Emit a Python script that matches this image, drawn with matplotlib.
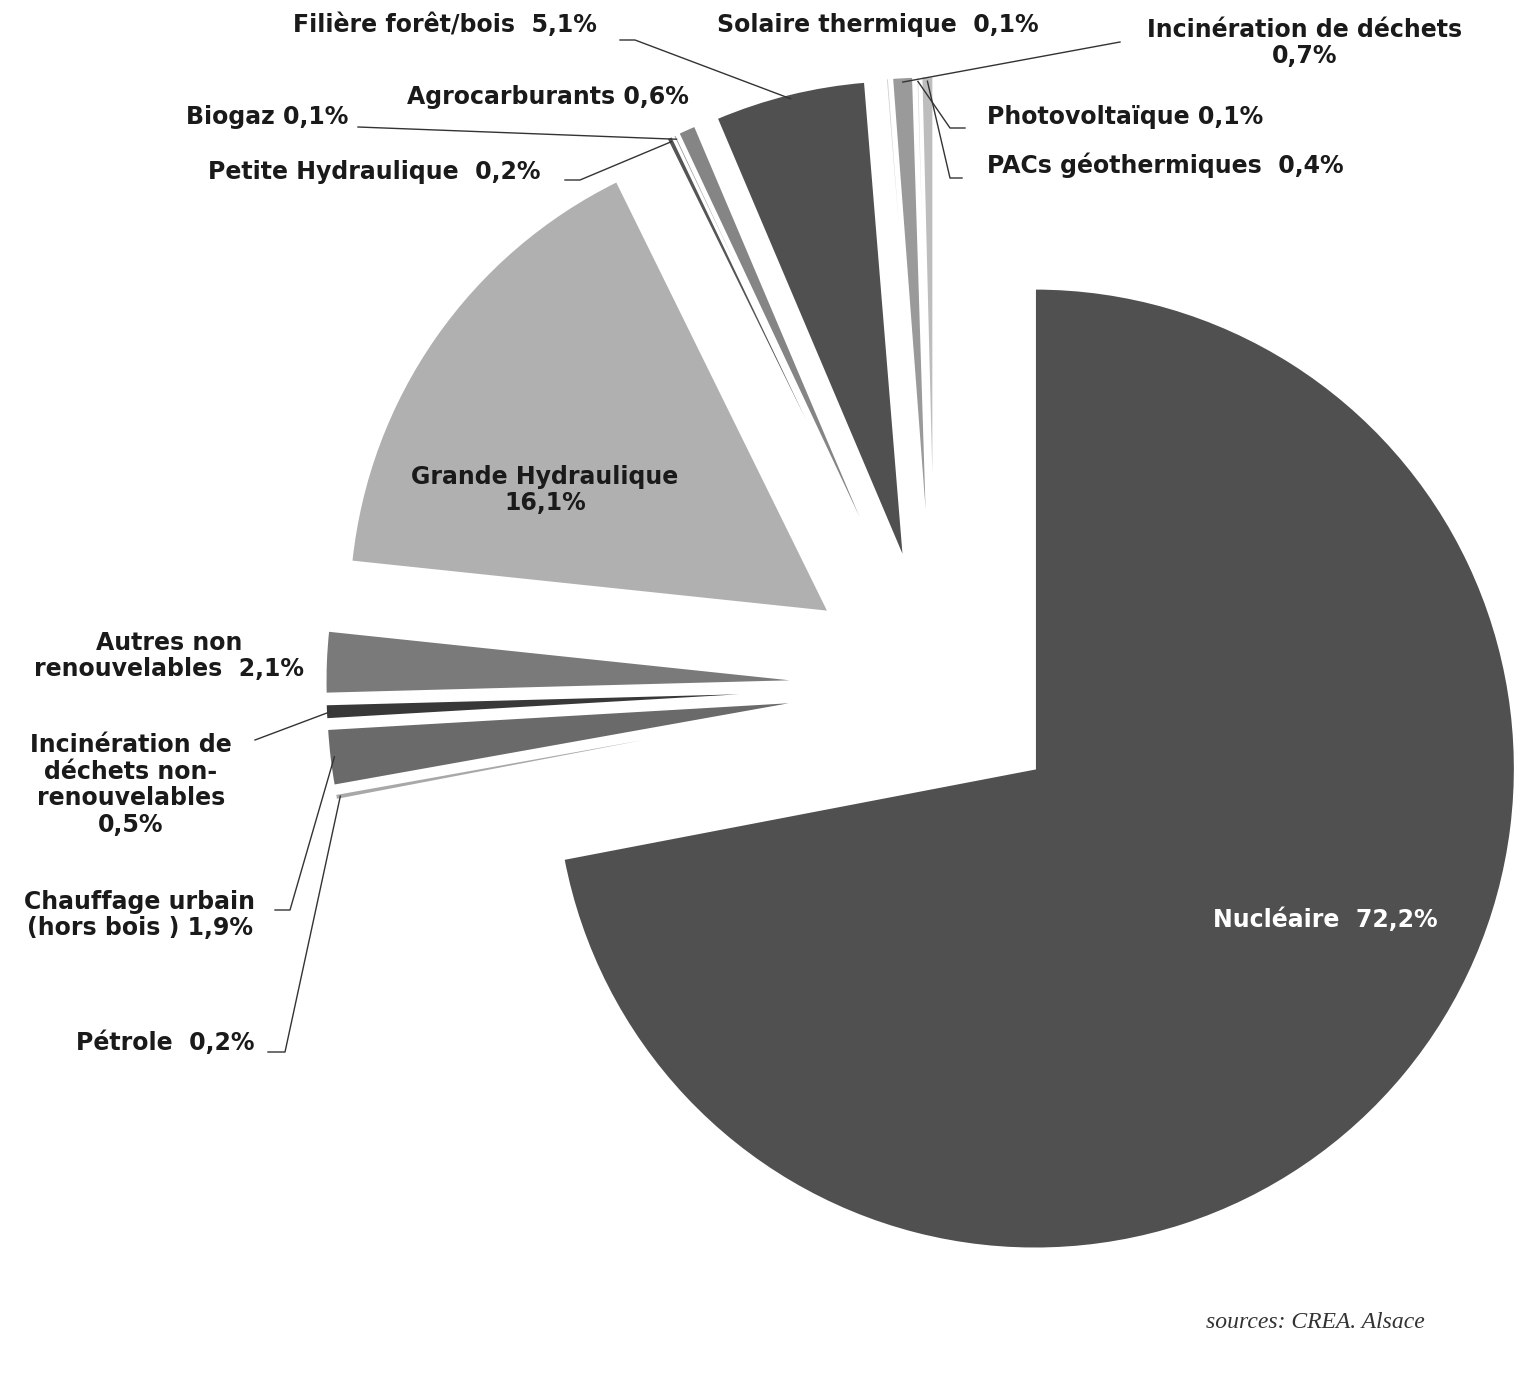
import numpy as np
import matplotlib
matplotlib.use("Agg")
import matplotlib.pyplot as plt

categories = ["Nucléaire", "Pétrole", "Chauffage urbain (hors bois )", "Incinération de déchets non-renouvelables",
              "Autres non renouvelables", "Grande Hydraulique", "Petite Hydraulique", "Biogaz",
              "Agrocarburants", "Filière forêt/bois", "Solaire thermique", "Incinération de déchets",
              "Photovoltaïque", "PACs géothermiques"]
values = [72.2, 0.2, 1.9, 0.5, 2.1, 16.1, 0.2, 0.1, 0.6, 5.1, 0.1, 0.7, 0.1, 0.4]
labels_txt = ["Nucléaire  72,2%", "Pétrole  0,2%", "Chauffage urbain\n(hors bois ) 1,9%",
              "Incinération de\ndéchets non-\nrenouvelables\n0,5%", "Autres non\nrenouvelables  2,1%",
              "Grande Hydraulique\n16,1%", "Petite Hydraulique  0,2%", "Biogaz 0,1%",
              "Agrocarburants 0,6%", "Filière forêt/bois  5,1%", "Solaire thermique  0,1%",
              "Incinération de déchets\n0,7%", "Photovoltaïque 0,1%", "PACs géothermiques  0,4%"]
colors = ["#505050", "#a8a8a8", "#6a6a6a", "#383838", "#7a7a7a", "#b0b0b0", "#555555", "#999999",
          "#858585", "#505050", "#cfcfcf", "#9a9a9a", "#dedede", "#bdbdbd"]

W, H = 1535, 1380
CX, CY, R = 935, 686, 480
def p2d(x, y):
    return ((x - CX) / R, (CY - y) / R)

fig = plt.figure(figsize=(W / 100, H / 100), dpi=100)
ax = fig.add_axes([0, 0, 1, 1])

wedges, _ = ax.pie(values, startangle=90, counterclock=False, colors=colors,
                   explode=[0.27] * len(values), radius=1,
                   wedgeprops=dict(edgecolor="white", linewidth=1.5))
ax.set_aspect("auto")
ax.set_xlim(p2d(0, 0)[0], p2d(W, 0)[0])
ax.set_ylim(p2d(0, H)[1], p2d(0, 0)[1])
ax.axis("off")

def anchor(i, rf=1.0):
    w = wedges[i]
    a = np.deg2rad((w.theta1 + w.theta2) / 2)
    cx, cy = w.center
    return (cx + rf * w.r * np.cos(a), cy + rf * w.r * np.sin(a))

fs = 17
layout = {
    0: (1325, 920, "center", None),
    1: (165, 1043, "center", [(268, 1052), (285, 1052)]),
    2: (140, 915, "center", [(275, 910), (290, 910)]),
    3: (131, 785, "center", [(255, 740)]),
    4: (169, 656, "center", None),
    5: (545, 490, "center", None),
    6: (374, 172, "center", [(565, 180), (580, 180)]),
    7: (267, 117, "center", [(358, 127)]),
    8: (548, 97, "center", None),
    9: (445, 25, "center", [(620, 40), (635, 40)]),
    10: (878, 25, "center", None),
    11: (1305, 43, "center", [(1120, 42)]),
    12: (1125, 117, "center", [(965, 128), (950, 128)]),
    13: (1165, 165, "center", [(962, 178), (950, 178)]),
}
for i, (x, y, ha, line) in layout.items():
    tx, ty = p2d(x, y)
    col = "white" if i == 0 else "#1a1a1a"
    ax.text(tx, ty, labels_txt[i], ha=ha, va="center", fontsize=fs, fontweight="bold",
            color=col, linespacing=1.15)
    if line:
        pts = [p2d(*p) for p in line] + [anchor(i, 0.99)]
        xs, ys = zip(*pts)
        ax.plot(xs, ys, color="#333333", lw=1)

sx, sy = p2d(1425, 1323)
ax.text(sx, sy, "sources: CREA. Alsace", ha="right", va="center", fontsize=17,
        style="italic", family="Liberation Serif", color="#333333")

fig.savefig("out.png", dpi=100, facecolor="white")
